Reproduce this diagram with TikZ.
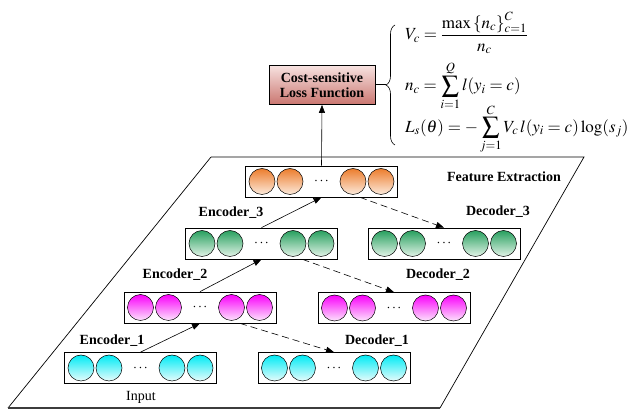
\documentclass[tikz,border=0pt]{standalone}
\usepackage{mathptmx}
\usepackage{fontspec}
\setmainfont{Liberation Serif}
\usetikzlibrary{arrows.meta,calc,decorations.pathreplacing}
\definecolor{orT}{RGB}{236,125,45}
\definecolor{orB}{RGB}{252,234,220}
\definecolor{grT}{RGB}{40,160,95}
\definecolor{grB}{RGB}{226,243,231}
\definecolor{mgT}{RGB}{250,0,250}
\definecolor{mgB}{RGB}{252,228,252}
\definecolor{cyT}{RGB}{0,235,245}
\definecolor{cyB}{RGB}{232,252,252}
\definecolor{lossT}{RGB}{247,226,224}
\definecolor{lossB}{RGB}{202,118,112}
\definecolor{edgegray}{RGB}{60,60,60}
\tikzset{
  layerbox/.style={draw=black, line width=0.7pt, fill=white, minimum width=152pt, minimum height=31pt, inner sep=0pt},
  unit/.style={circle, draw=black, line width=0.5pt, minimum size=26pt, inner sep=0pt},
  dotsnode/.style={inner sep=0pt, font=\fontsize{14}{16}\selectfont},
  lbl/.style={font=\fontsize{14}{16}\selectfont\bfseries, inner sep=1pt},
  plainlbl/.style={font=\fontsize{14}{16}\selectfont, inner sep=1pt},
  lossbox/.style={draw=black, line width=0.7pt, top color=lossT, bottom color=lossB, minimum width=106pt, minimum height=39pt, align=center, font=\fontsize{14}{15}\selectfont\bfseries, inner sep=0pt},
  eq/.style={font=\fontsize{17}{19}\selectfont, inner sep=0pt},
  solidarrow/.style={line width=0.6pt, -{Triangle[length=8pt,width=6pt]}},
  dasharrow/.style={line width=0.6pt, dash pattern=on 7pt off 4pt, -{Triangle[length=8pt,width=6pt]}},
}
\newcommand{\layerrow}[4]{%
  \node[layerbox] (#1) at (#2,#3) {};
  \foreach \dx/\k in {-59.5/a,-31.5/b,31.5/c,59.5/d}
    \node[unit, top color=#4T, bottom color=#4B] (#1-\k) at ($(#1.center)+(\dx,0)$) {};
  \node[dotsnode] (#1-dots) at (#1.center) {$\cdots$};
}
\begin{document}
\begin{tikzpicture}[x=1pt,y=-1pt]
\useasboundingbox (0,0) rectangle (641,411);
% plane
\draw[line width=0.7pt] (211,157) -- (584,157) -- (440,408);
\draw[line width=0.7pt] (211,157) -- (8,408);
\draw[line width=1.4pt, edgegray] (8,408) -- (440,408);
% layers
\layerrow{top}{321.5}{181.5}{or}
\layerrow{e3}{261.5}{243.5}{gr}
\layerrow{d3}{444}{243.5}{gr}
\layerrow{e2}{200}{307.5}{mg}
\layerrow{d2}{394}{308}{mg}
\layerrow{e1}{140.5}{368}{cy}
\layerrow{d1}{334}{368}{cy}
% labels
\node[lbl] (fe) at (504,177) {Feature Extraction};
\node[lbl] (ld3) at (498,212) {Decoder\_3};
\node[lbl] (ld2) at (438,275) {Decoder\_2};
\node[lbl] (ld1) at (377,341) {Decoder\_1};
\node[lbl] (le3) at (231,213) {Encoder\_3};
\node[lbl] (le2) at (175,275) {Encoder\_2};
\node[lbl] (le1) at (112,341) {Encoder\_1};
\node[plainlbl] (inp) at (141,397) {Input};
% encoder arrows
\draw[solidarrow] (e1.north) -- (e2.south);
\draw[solidarrow] (e2.north) -- (e3.south);
\draw[solidarrow] (e3.north) -- (top.south);
% decoder arrows
\draw[dasharrow] ($(e2.south)+(40,0)$) -- (d1.north);
\draw[dasharrow] ($(e3.south)+(41,0)$) -- (d2.north);
\draw[dasharrow] ($(top.south)+(38.5,0)$) -- (d3.north);
% loss
\node[lossbox] (loss) at (322,85) {Cost-sensitive\\Loss Function};
\draw[solidarrow] (top.north) -- (loss.south);
\draw[line width=0.6pt, decorate, decoration={brace, amplitude=9pt}] (395,145) -- (395,25);
\coordinate (bracetip) at (386,85);
\draw[line width=1pt] (loss.east) -- (bracetip);
% equations
\node[eq, anchor=west] (eqV) at (405,33) {$V_c = \displaystyle\frac{\max\left\{n_c\right\}_{c=1}^{C}}{n_c}$};
\node[eq, anchor=west] (eqN) at (405,86) {$\displaystyle n_c = \sum_{i=1}^{Q} l(y_i = c)$};
\node[eq, anchor=west] (eqL) at (405,129) {$\displaystyle L_s(\theta) = -\sum_{j=1}^{C} V_c\, l(y_i = c)\log(s_j)$};
\end{tikzpicture}
\end{document}
